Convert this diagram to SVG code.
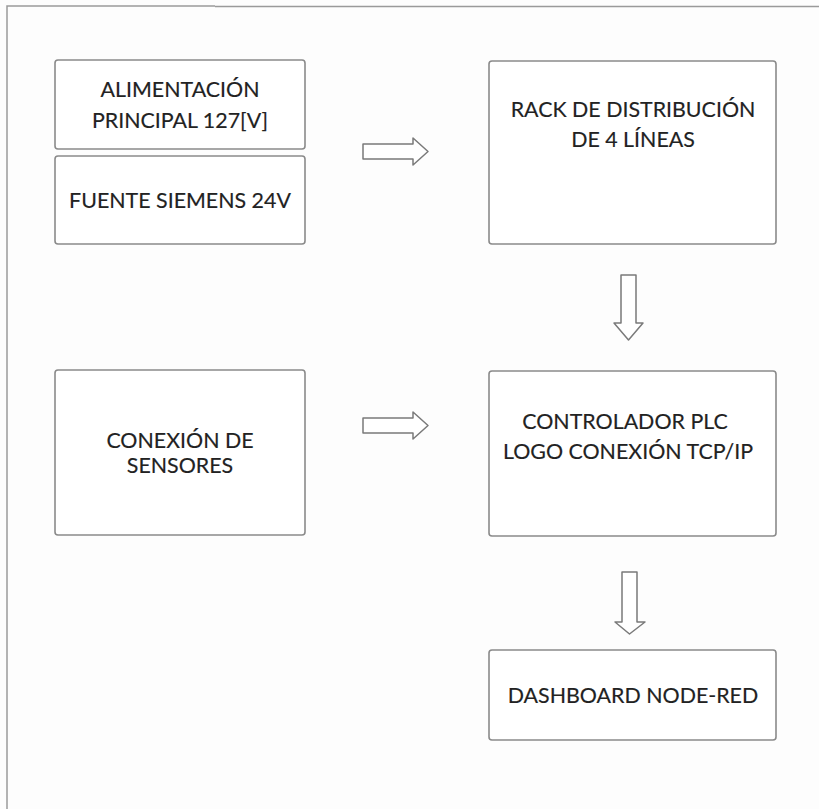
<svg xmlns="http://www.w3.org/2000/svg" width="819" height="809" viewBox="0 0 819 809">
<style>
.box{fill:#fff;stroke:#8a8a8a;stroke-width:1.6}
.lbl{font-family:Lato,"Noto Sans",sans-serif;font-size:21.4px;fill:#222;stroke:#222;stroke-width:0.15;text-anchor:middle}
.arr{fill:#fff;stroke:#7a7a7a;stroke-width:1.5;stroke-linejoin:round}
.frame{fill:none;stroke:#9a9a9a;stroke-width:1.5}
</style>
<rect width="819" height="809" fill="#fdfdfd"/>
<path class="frame" d="M7,809 V6 H215 M215,6.5 H819"/>
<g id="alimentacion">
<rect class="box" x="55" y="60" width="250" height="89" rx="3"/>
<text class="lbl" x="180" y="97">ALIMENTACIÓN</text>
<text class="lbl" x="180" y="128">PRINCIPAL 127[V]</text>
</g>
<g id="fuente">
<rect class="box" x="55" y="156" width="250" height="88" rx="3"/>
<text class="lbl" x="180" y="208">FUENTE SIEMENS 24V</text>
</g>
<g id="rack">
<rect class="box" x="489" y="61" width="287" height="183" rx="3"/>
<text class="lbl" x="633" y="117">RACK DE DISTRIBUCIÓN</text>
<text class="lbl" x="633" y="147">DE 4 LÍNEAS</text>
</g>
<g id="sensores">
<rect class="box" x="55" y="370" width="250" height="165" rx="3"/>
<text class="lbl" x="180" y="448">CONEXIÓN DE</text>
<text class="lbl" x="180" y="473">SENSORES</text>
</g>
<g id="plc">
<rect class="box" x="489" y="371" width="287" height="165" rx="3"/>
<text class="lbl" x="625" y="429">CONTROLADOR PLC</text>
<text class="lbl" x="628" y="459">LOGO CONEXIÓN TCP/IP</text>
</g>
<g id="dashboard">
<rect class="box" x="489" y="650" width="287" height="90" rx="3"/>
<text class="lbl" x="633" y="703">DASHBOARD NODE-RED</text>
</g>
<g id="connectors">
<path class="arr" d="M363,144 H413 V138 L428,151.5 L413,165 V159 H363 Z"/>
<path class="arr" d="M363,418 H413 V412 L428,425.5 L413,439 V433 H363 Z"/>
<path class="arr" d="M621,275 H636 V323 H643 L628.5,340 L614,323 H621 Z"/>
<path class="arr" d="M622,572 H637 V622 H645 L629.5,634 L615,622 H622 Z"/>
</g>
</svg>
